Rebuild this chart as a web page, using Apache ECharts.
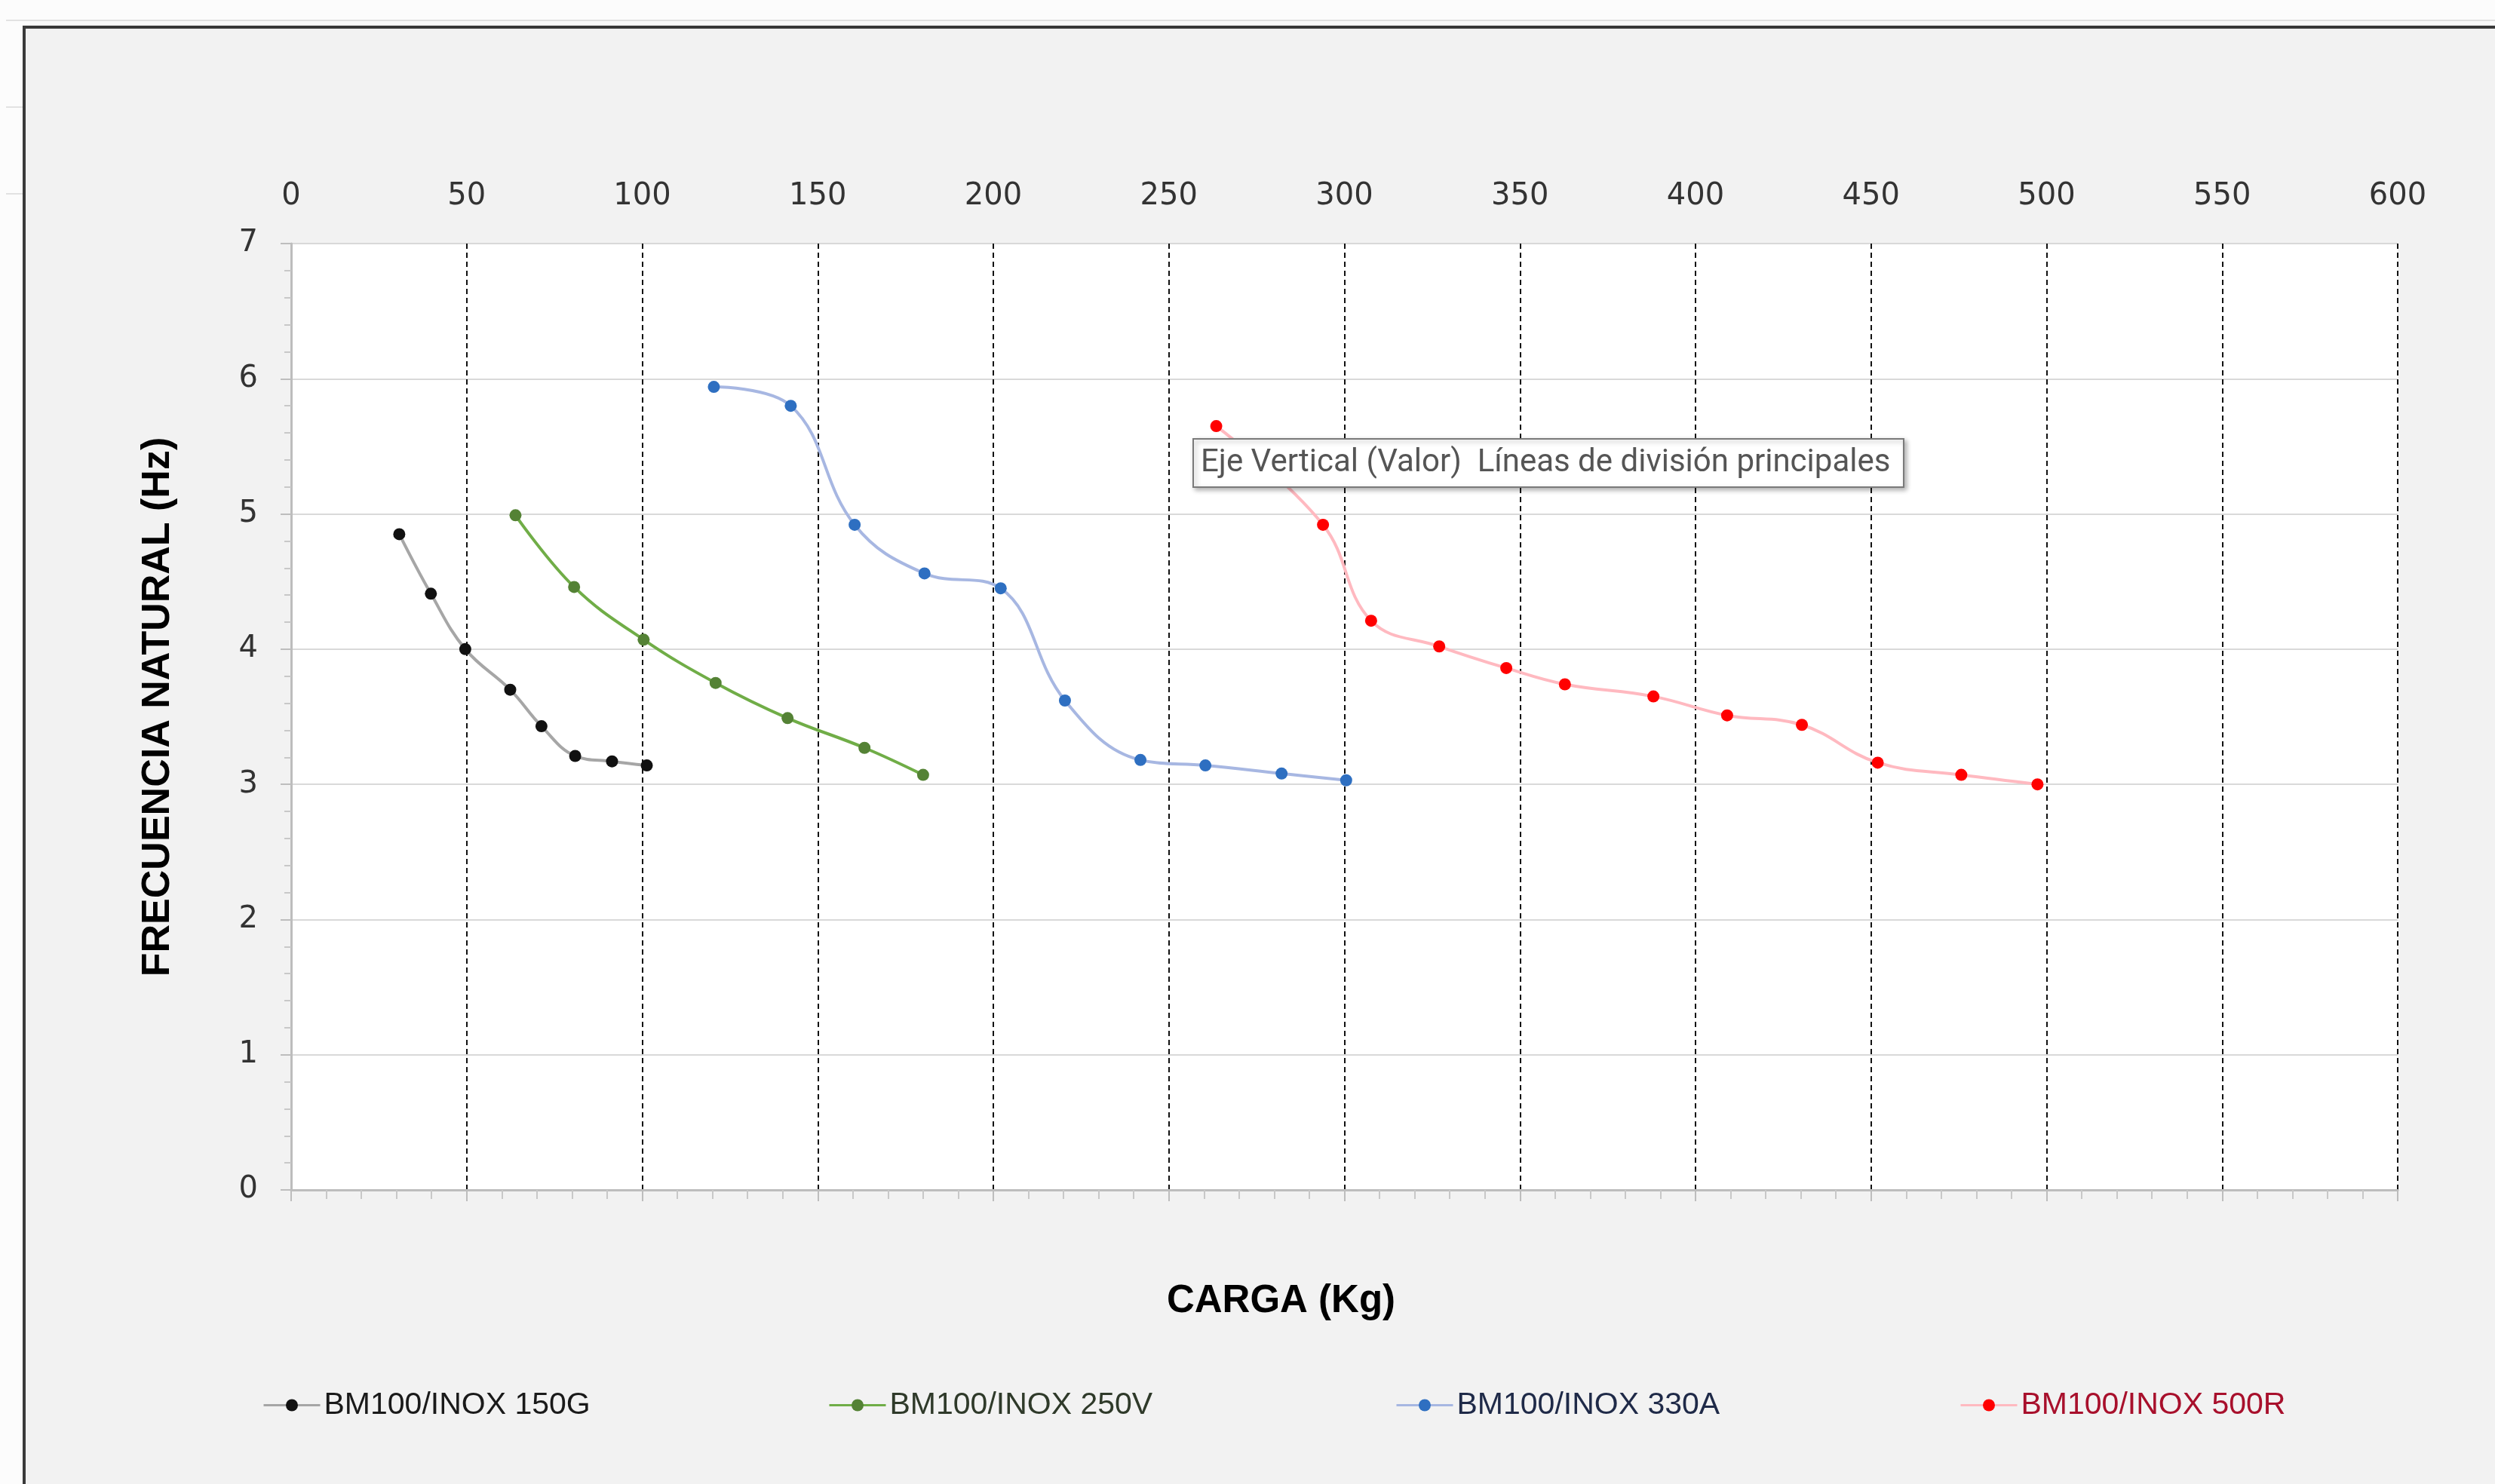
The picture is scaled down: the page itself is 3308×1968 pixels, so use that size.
<!DOCTYPE html>
<html style="height: 100%">
<head>
    <meta charset="utf-8">
    <script src="https://cdn.jsdelivr.net/npm/echarts@6/dist/echarts.min.js"></script>
</head>
<body style="height: 100%; margin: 0; background: #fcfcfc">
<div id="container" style="width: 3308px; height: 1968px"></div>

<script type="text/javascript">
    // data: load (kg) vs natural frequency (Hz)
    var names = ['BM100/INOX 150G', 'BM100/INOX 250V', 'BM100/INOX 330A', 'BM100/INOX 500R'];

    var load150G = [30.8, 39.8, 49.6, 62.4, 71.3, 80.9, 91.4, 101.3];
    var freq150G = [4.85, 4.41, 4.00, 3.70, 3.43, 3.21, 3.17, 3.14];

    var load250V = [63.9, 80.6, 100.4, 120.9, 141.4, 163.3, 180.0];
    var freq250V = [4.99, 4.46, 4.07, 3.75, 3.49, 3.27, 3.07];

    var load330A = [120.4, 142.3, 160.5, 180.4, 202.1, 220.4, 241.9, 260.4, 282.1, 300.5];
    var freq330A = [5.94, 5.80, 4.92, 4.56, 4.45, 3.62, 3.18, 3.14, 3.08, 3.03];

    var load500R = [263.5, 293.9, 307.6, 327.0, 346.1, 362.8, 388.0, 409.0, 430.3, 451.9, 475.7, 497.4];
    var freq500R = [5.65, 4.92, 4.21, 4.02, 3.86, 3.74, 3.65, 3.51, 3.44, 3.16, 3.07, 3.00];

    var xTicks = [0, 50, 100, 150, 200, 250, 300, 350, 400, 450, 500, 550, 600];
    var yTicks = [0, 1, 2, 3, 4, 5, 6, 7];

    var hoverText = 'Eje Vertical (Valor)  L\u00edneas de divisi\u00f3n principales';

    function pairs(xs, ys) {
        return xs.map(function (x, i) { return [x, ys[i]]; });
    }

    var dom = document.getElementById('container');
    var myChart = echarts.init(dom, null, { renderer: 'canvas' });

    var lineColors = ['#a6a6a6', '#70ad47', '#a7b7e2', '#ffb9c0'];
    var dotColors = ['#111111', '#548235', '#2e6fc1', '#ff0000'];
    var textColors = ['#1a1a1a', '#2f3a2a', '#1f2a48', '#a8102c'];
    var legendLeft = [343, 1093, 1845, 2593];
    var allData = [pairs(load150G, freq150G), pairs(load250V, freq250V),
                   pairs(load330A, freq330A), pairs(load500R, freq500R)];

    var option = {
        backgroundColor: '#fcfcfc',
        animation: false,
        graphic: [
            { type: 'line', z: -100, shape: { x1: 8, y1: 27, x2: 3308, y2: 27 }, style: { stroke: '#e2e2e2', lineWidth: 2 } },
            { type: 'line', z: -100, shape: { x1: 8, y1: 142, x2: 30, y2: 142 }, style: { stroke: '#e2e2e2', lineWidth: 2 } },
            { type: 'line', z: -100, shape: { x1: 8, y1: 257, x2: 30, y2: 257 }, style: { stroke: '#e2e2e2', lineWidth: 2 } },
            {
                type: 'rect', z: -100,
                shape: { x: 32, y: 36, width: 3400, height: 2000 },
                style: { fill: '#f2f2f2', stroke: '#3a3a3a', lineWidth: 4 }
            },
            {
                type: 'group', left: 1581, top: 581, z: 100,
                children: [
                    {
                        type: 'rect', z: 100,
                        shape: { x: 0, y: 0, width: 942, height: 64 },
                        style: {
                            fill: '#ffffff', stroke: '#7a7a7a', lineWidth: 2,
                            shadowBlur: 6, shadowOffsetX: 3, shadowOffsetY: 3, shadowColor: 'rgba(0,0,0,0.3)'
                        }
                    },
                    {
                        type: 'text', z: 101, x: 10, y: 32,
                        style: {
                            text: hoverText, fill: '#555555', font: '42px Roboto',
                            verticalAlign: 'middle'
                        }
                    }
                ]
            }
        ],
        legend: names.map(function (n, i) {
            return {
                data: [n],
                left: legendLeft[i],
                top: 1838,
                itemWidth: 75,
                itemHeight: 20,
                itemGap: 0,
                lineStyle: { width: 3 },
                textStyle: { color: textColors[i], fontFamily: 'Liberation Sans', fontSize: 41 }
            };
        }),
        grid: {
            left: 386, right: 129, top: 323, bottom: 390,
            show: true, backgroundColor: '#ffffff', borderWidth: 0,
            outerBoundsMode: 'none'
        },
        xAxis: [
            {
                type: 'value', position: 'top', min: 0, max: 600, interval: 50,
                axisLine: { show: false },
                axisTick: { show: false },
                axisLabel: {
                    margin: 42, color: '#333333', fontFamily: 'DejaVu Sans', fontSize: 40,
                    customValues: xTicks
                },
                splitLine: {
                    show: true, showMinLine: false,
                    lineStyle: { color: '#111111', width: 2, type: [7, 5] }
                }
            },
            {
                type: 'value', position: 'bottom', min: 0, max: 600, interval: 50,
                name: 'CARGA (Kg)', nameLocation: 'middle', nameGap: 122,
                nameTextStyle: {
                    color: '#000000', fontFamily: 'Liberation Sans', fontWeight: 'bold', fontSize: 51,
                    padding: [0, 168, 0, 0]
                },
                axisLine: { show: true, lineStyle: { color: '#bdbdbd', width: 3 } },
                axisTick: { show: true, length: 15, lineStyle: { color: '#bdbdbd', width: 2 } },
                minorTick: { show: true, splitNumber: 5, length: 12, lineStyle: { color: '#c8c8c8', width: 2 } },
                axisLabel: { show: false },
                splitLine: { show: false }
            }
        ],
        yAxis: {
            type: 'value', min: 0, max: 7, interval: 1,
            name: 'FRECUENCIA NATURAL (Hz)', nameLocation: 'middle', nameGap: 150,
            nameTextStyle: {
                color: '#000000', fontFamily: 'Liberation Sans', fontWeight: 'bold', fontSize: 52,
                padding: [0, 0, 0, 26]
            },
            axisLine: { show: true, lineStyle: { color: '#bdbdbd', width: 3 } },
            axisTick: { show: true, length: 14, lineStyle: { color: '#bdbdbd', width: 2 } },
            minorTick: { show: true, splitNumber: 5, length: 9, lineStyle: { color: '#c8c8c8', width: 2 } },
            axisLabel: {
                margin: 44, color: '#333333', fontFamily: 'DejaVu Sans', fontSize: 40,
                customValues: yTicks
            },
            splitLine: {
                show: true, showMinLine: false,
                lineStyle: { color: '#d9d9d9', width: 2 }
            }
        },
        series: names.map(function (n, i) {
            return {
                name: n,
                type: 'line',
                xAxisIndex: 0,
                smooth: 0.4,
                symbol: 'circle',
                symbolSize: 16,
                data: allData[i],
                lineStyle: { color: lineColors[i], width: 4 },
                itemStyle: { color: dotColors[i], borderWidth: 0 }
            };
        })
    };

    if (option && typeof option === 'object') {
        myChart.setOption(option);
    }
</script>
</body>
</html>
